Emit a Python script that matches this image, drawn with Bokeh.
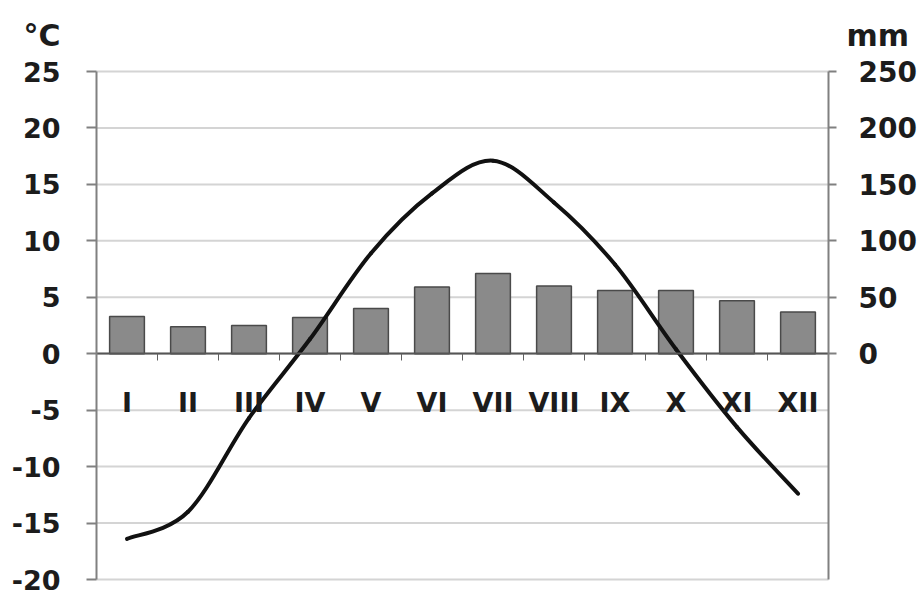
from bokeh.plotting import figure
from bokeh.models import Range1d, LinearAxis, FixedTicker, ColumnDataSource
from bokeh.embed import file_html
from bokeh.resources import INLINE

# ---- data ----
months = ["I", "II", "III", "IV", "V", "VI", "VII", "VIII", "IX", "X", "XI", "XII"]
precip_mm = [33, 24, 25, 32, 40, 59, 71, 60, 56, 56, 47, 37]
temp_c = [-16.4, -14.0, -5.7, 1.3, 8.9, 14.2, 17.1, 13.4, 7.9, 0.4, -6.5, -12.4]
temp_ticks = [-20, -15, -10, -5, 0, 5, 10, 15, 20, 25]
mm_ticks = [0, 50, 100, 150, 200, 250]
unit_left = "°C"
unit_right = "mm"

# ---- layout constants (pixels) ----
FONT = "DejaVu Sans"
TXT = "#1c1c1c"
W, H = 919, 590
AX_LEFT, AX_RIGHT = 96, 828        # canvas x of the two value axes
AX_TOP, AX_BOTTOM = 71, 579        # canvas y of the 25 and -20 lines
T_MIN, T_MAX = -20, 25
MM_PER_DEG = 10

idx = list(range(1, len(months) + 1))
bounds = [i - 0.5 for i in idx] + [idx[-1] + 0.5]
x_lo, x_hi = bounds[0], bounds[-1]

px_x = (AX_RIGHT - AX_LEFT) / (x_hi - x_lo)
px_y = (AX_BOTTOM - AX_TOP) / (T_MAX - T_MIN)
view_x0 = x_lo - AX_LEFT / px_x
view_x1 = x_hi + (W - AX_RIGHT) / px_x
view_y0 = T_MIN - (H - AX_BOTTOM) / px_y
view_y1 = T_MAX + AX_TOP / px_y
unit_y = T_MAX + 36 / px_y          # unit labels 36 px above the top line

p = figure(width=W, height=H, title=None,
           x_range=Range1d(view_x0, view_x1), y_range=Range1d(view_y0, view_y1),
           output_backend="svg", toolbar_location=None,
           min_border_left=0, min_border_right=0,
           min_border_top=0, min_border_bottom=0)
p.outline_line_color = None
p.background_fill_color = "white"
p.border_fill_color = "white"
p.extra_y_ranges = {"mm": Range1d(view_y0 * MM_PER_DEG, view_y1 * MM_PER_DEG)}
p.xgrid.visible = False
p.ygrid.visible = False

# horizontal gridlines between the two axes
p.segment(x0=[x_lo] * len(temp_ticks), x1=[x_hi] * len(temp_ticks),
          y0=temp_ticks, y1=temp_ticks, line_color="#d4d4d4", line_width=2)

# bars (precipitation)
p.vbar(x=idx, top=precip_mm, bottom=0, width=0.57, y_range_name="mm",
       fill_color="#8a8a8a", line_color="#4a4a4a", line_width=1.5)

# smoothed temperature line (bezier segments derived from data)
n = len(temp_c)
def pt(i):
    i = max(0, min(n - 1, i))
    return idx[i], temp_c[i]
seg = dict(x0=[], y0=[], x1=[], y1=[], cx0=[], cy0=[], cx1=[], cy1=[])
for i in range(n - 1):
    xa_, ya_ = pt(i); xb, yb = pt(i + 1)
    xp, yp = pt(i - 1); xn, yn = pt(i + 2)
    seg["x0"].append(xa_); seg["y0"].append(ya_)
    seg["x1"].append(xb); seg["y1"].append(yb)
    seg["cx0"].append(xa_ + (xb - xp) / 6); seg["cy0"].append(ya_ + (yb - yp) / 6)
    seg["cx1"].append(xb - (xn - xa_) / 6); seg["cy1"].append(yb - (yn - ya_) / 6)
p.bezier(x0="x0", y0="y0", x1="x1", y1="y1", cx0="cx0", cy0="cy0",
         cx1="cx1", cy1="cy1", source=ColumnDataSource(seg),
         line_color="#111111", line_width=4, line_cap="round")

def style_labels(ax, size="28px"):
    ax.major_label_text_font = FONT
    ax.major_label_text_font_style = "bold"
    ax.major_label_text_font_size = size
    ax.major_label_text_color = TXT

# x axis at zero with month labels
xa = p.xaxis[0]
xa.fixed_location = 0
xa.bounds = (x_lo, x_hi)
xa.ticker = FixedTicker(ticks=idx, minor_ticks=bounds)
xa.major_label_overrides = {i: m for i, m in zip(idx, months)}
xa.major_tick_out = 0
xa.major_tick_in = 0
xa.minor_tick_out = 7
xa.minor_tick_in = 0
xa.minor_tick_line_color = "#606060"
xa.axis_line_color = "#555555"
xa.axis_line_width = 2
xa.major_label_standoff = 26
style_labels(xa, "27px")

# left axis (°C)
ya = p.yaxis[0]
ya.fixed_location = x_lo
ya.bounds = (T_MIN, T_MAX)
ya.ticker = FixedTicker(ticks=temp_ticks)
ya.major_label_overrides = {t: str(t) for t in temp_ticks}
ya.major_tick_out = 10
ya.major_tick_in = 0
ya.minor_tick_line_color = None
ya.axis_line_color = "#808080"
ya.axis_line_width = 2
ya.major_tick_line_color = "#808080"
ya.major_tick_line_width = 2
ya.major_label_standoff = 26
style_labels(ya, "27px")

# right axis (mm)
ra = LinearAxis(y_range_name="mm", ticker=FixedTicker(ticks=mm_ticks))
ra.fixed_location = x_hi
ra.bounds = (T_MIN * MM_PER_DEG, T_MAX * MM_PER_DEG)
ra.major_tick_out = 8
ra.major_tick_in = 0
ra.minor_tick_line_color = None
ra.axis_line_color = "#808080"
ra.axis_line_width = 2
ra.major_tick_line_color = "#808080"
ra.major_tick_line_width = 2
ra.major_label_standoff = 22
style_labels(ra)
p.add_layout(ra, "right")

# unit labels as label-only axes
ul = LinearAxis(ticker=FixedTicker(ticks=[unit_y]))
ul.fixed_location = x_lo
ul.major_label_overrides = {unit_y: unit_left}
ul.axis_line_color = None
ul.major_tick_line_color = None
ul.minor_tick_line_color = None
ul.major_tick_out = 0
ul.major_label_standoff = 36
style_labels(ul, "30px")
p.add_layout(ul, "left")

ur = LinearAxis(ticker=FixedTicker(ticks=[unit_y]))
ur.fixed_location = x_hi
ur.major_label_overrides = {unit_y: unit_right}
ur.axis_line_color = None
ur.major_tick_line_color = None
ur.minor_tick_line_color = None
ur.major_tick_out = 0
ur.major_label_standoff = 18
style_labels(ur, "30px")
p.add_layout(ur, "right")

open("out.html", "w").write(file_html(p, INLINE))
